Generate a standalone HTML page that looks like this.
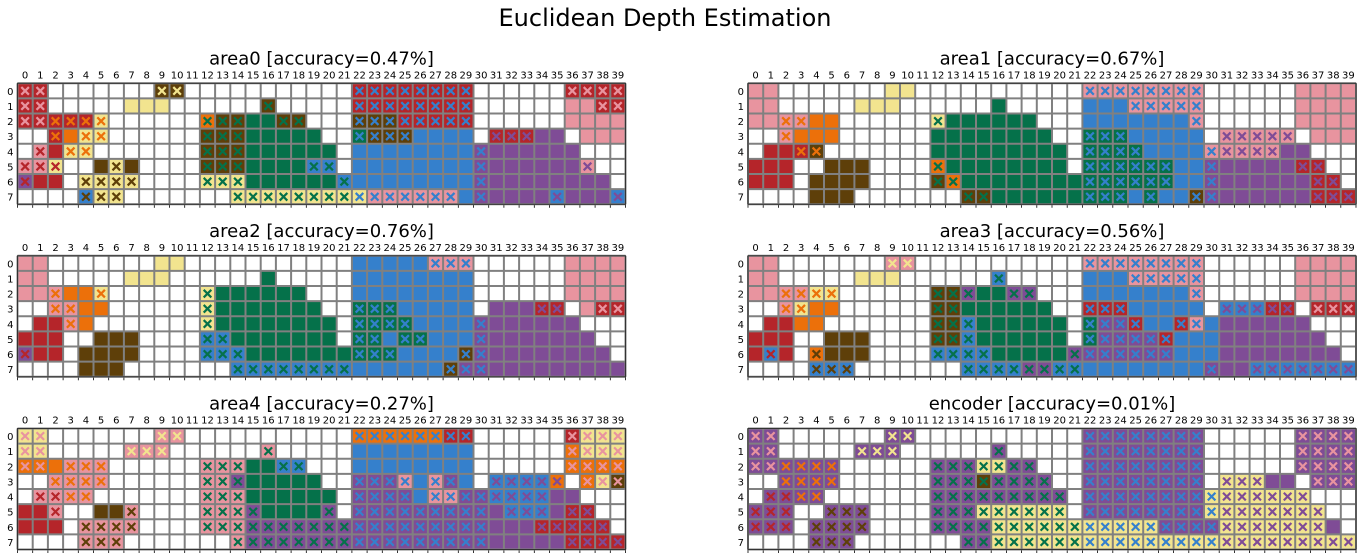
<!DOCTYPE html>
<html><head><meta charset="utf-8"><style>
html,body{margin:0;padding:0;background:#fff;}
svg{display:block;font-family:"DejaVu Sans","Liberation Sans",sans-serif;}
</style></head><body>
<svg id="chart" width="1363" height="559" viewBox="0 0 1363 559" xmlns="http://www.w3.org/2000/svg">
<text x="665" y="26" font-size="24" text-anchor="middle" fill="#000">Euclidean Depth Estimation</text>
</svg>
<script>
// Cell codes: first letter = fill class, second letter (optional) = marker class. W = white/empty.
const panelTitles = ["area0 [accuracy=0.47%]","area1 [accuracy=0.67%]","area2 [accuracy=0.76%]","area3 [accuracy=0.56%]","area4 [accuracy=0.27%]","encoder [accuracy=0.01%]"];
const colLabels = Array.from({length:40},(_,i)=>String(i));
const rowLabels = ["0","1","2","3","4","5","6","7"];
const area0 = [
"RP RP W*7 BY BY W*11 RU*8 W*6 RP RP RP RP",
"RP RP W*5 Y Y Y W*6 BG W*5 RU*8 W*6 P P RP RP",
"RP RP RO RO RO YO W*6 OG BG BG G G BG BG W*3 BU BU BU RU*5 W*6 P*4",
"W W RO O YO YO W*6 BG BG BG G*5 W W GU BU BU BU U*4 W RV RV RV V V W P P P",
"W PR R YO YO W*7 BG BG BG G*6 W U*8 VU V*6 W W W",
"PR PR YR W W B YB B W*4 BG BG BG G*4 UG UG W U*8 VU V*6 PV W W",
"VR R R W YB YB YB YB W*4 YG YG YG G*6 UG U*8 VU V*8 W",
"W*4 UB YB YB W*7 YG*8 YU PU*6 U VU V*4 UV V V V UV"];
const area1 = [
"P P W*7 Y Y W*11 PU*8 W*6 P*4",
"P P W*5 Y Y Y W*6 G W*5 U U U PU*5 W*6 P*4",
"P P PO PO O O W*6 YG G*6 W*3 U*7 PU W*6 P*4",
"W W PO O O O W*6 G*8 W W GU GU GU U*5 W PV*5 W P P P",
"W R R RO BO W*7 G*9 W GU*4 U*4 PU PV*4 V V W W W",
"R R R W W B B B W*4 OG G*8 W GU*6 U U VU V*5 RV RV W W",
"R R R W B B B B W*4 BG OG G*8 GU*6 U U VU V*6 RV RV W",
"W*4 B B B W*7 BG BG G*6 GU GU GU U GU U U BU VU V*6 RV RV RV"];
const area2 = [
"P P W*7 Y Y W*11 U*5 PU PU PU W*6 P*4",
"P P W*5 Y Y Y W*6 G W*5 U*8 W*6 P*4",
"P P PO O O YO W*6 YG G*6 W*3 U*8 W*6 P*4",
"W W PO PO O O W*6 YG G*7 W W GU GU GU U*5 W V V V RV RV W P RP RP",
"W R R PO O W*7 YG G*8 W GU*4 U*4 VU V*6 W W W",
"R R R W W B B B W*4 UG UG G*7 W GU GU U GU GU U U U VU V*7 W W",
"VR R R W B B B B W*4 UG UG UG G*7 GU GU GU U*4 BU VU V*8 W",
"W*4 B B B W*7 UG*8 U*6 BU VU VU V*9"];
const area3 = [
"P P W*7 PY PY W*11 PU*8 W*6 P*4",
"P P W*5 Y Y Y W*6 UG W*5 U U U PU*5 W*6 P*4",
"P P PO PO YO YO W*6 BG BG VG G G VG VG W*3 U*7 PU W*6 P*4",
"W W PO YO O O W*6 BG BG G*6 W W RU RU RU U*5 W UV UV UV RV RV W RP RP RP",
"W R R O O W*7 BG BG UG G*6 W GU VU VU RU U U RU PU U V*6 W W W",
"R R R W W B B B W*4 BG BG UG G*6 W GU VU VU VU VU RU U U U V*7 W W",
"R UR R W OB B B B W*4 UG UG UG UG G*5 VG VU*6 U U U V*8 W",
"W*4 UB UB UB W*7 UG UG UG UG VG VG UG UG U*8 VU V V UV*7"];
const area4 = [
"YP YP W*7 PY PY W*11 OU*6 RU RU W*6 RP YP YP YP",
"YP YP W*5 PY PY PY W*6 PG W*5 U*8 W*6 OP YP YP YP",
"OP OP O PO PO PO W*6 PG PG PG G G UG UG W*3 U*8 W*6 OP*4",
"W W PO*4 W*6 PG PG VG G*5 W W VU VU VU PU U PU VU U W UV*4 OV W OP YP BP",
"W PR PR PO PO W*7 PG PG PG G*6 W VU*4 U PU PU VU VU UV*4 V V W W W",
"R R PR W W B B PB W*4 PG PG PG VG G*4 VG W VU*9 V UV UV UV V RV RV W W",
"R R R W PB PB PB PB W*4 PG PG PG VG*7 VU*9 V V V RV*5 W",
"W*4 PB PB PB W*7 PG VG*7 VU*9 V*5 RV*4"];
const encoder = [
"VP VP W*7 VY VY W*11 VU*8 W*6 VP*4",
"VP VP W*5 VY VY VY W*6 VG W*5 VU*8 W*6 VP*4",
"VP VP VO*4 W*6 VG VG VG YG YG VG VG W*3 VU*8 W*6 VP*4",
"W W VO*4 W*6 VG VG VG BG VG*4 W W VU*8 W YV YV YV V V W VP VP VP",
"W VR VR VO VO W*7 VG*9 W VU*8 YU YV*6 W W W",
"VR VR VR W W VB VB VB W*4 VG VG VG YG*6 W VU*8 YU YV*7 W W",
"VR VR VR W VB VB VB VB W*4 VG*4 YG*6 YU*5 VU*4 YV*7 V W",
"W*4 VB VB VB W*7 VG VG YG*6 YU*9 YV*9"];
const panelsData = [area0, area1, area2, area3, area4, encoder];

const palette = {P:"#e8949f",R:"#b5252a",O:"#ec700a",Y:"#f2e48f",B:"#5e3f09",G:"#05714a",U:"#3580cc",V:"#7f4c96",W:"#ffffff"};
const NS = "http://www.w3.org/2000/svg";
const svg = document.getElementById('chart');
function expandRow(s){const out=[];s.trim().split(/\s+/).forEach(t=>{const m=t.split('*');const n=m[1]?parseInt(m[1]):1;for(let i=0;i<n;i++)out.push(m[0]);});return out;}
function mk(tag,attrs,parent){const e=document.createElementNS(NS,tag);for(const k in attrs)e.setAttribute(k,attrs[k]);(parent||svg).appendChild(e);return e;}
const layout = [[17.5,83.3],[748,83.3],[17.5,255.8],[748,255.8],[17.5,428.5],[748,428.5]];
const gridW = 608, gridH = 121;
panelsData.forEach((rows,pi)=>{
  const [x0,y0]=layout[pi];
  const cw=gridW/colLabels.length, ch=gridH/rowLabels.length;
  const xs=c=>x0+c*cw, ys=r=>y0+r*ch;
  const g=mk('g',{});
  
  
  const t=mk('text',{x:x0+gridW/2,y:y0-19,'font-size':18,'text-anchor':'middle',fill:'#000'},g);
  
  
  t.textContent=panelTitles[pi];
  rows.forEach((rs,r)=>{
    expandRow(rs).forEach((code,c)=>{
      const rect=mk('rect',{x:xs(c),y:ys(r),width:cw,height:ch,fill:palette[code[0]]},g);
      
      
      if(code.length>1){
        const cx=xs(c)+cw/2, cy=ys(r)+ch/2, d=3.8, col=palette[code[1]];
        const p=mk('path',{d:`M${cx-d},${cy-d}L${cx+d},${cy+d}M${cx-d},${cy+d}L${cx+d},${cy-d}`,stroke:col,'stroke-width':2.2,fill:'none'},g);
        
        
      }
    });
  });
  for(let c=0;c<=colLabels.length;c++){
    mk('line',{x1:xs(c),y1:y0,x2:xs(c),y2:y0+gridH,stroke:'#808080','stroke-width':2},g);
    mk('line',{x1:xs(c),y1:y0+gridH,x2:xs(c),y2:y0+gridH+3.5,stroke:'#000','stroke-width':0.8},g);
  }
  for(let r=0;r<=rowLabels.length;r++){
    mk('line',{x1:x0,y1:ys(r),x2:x0+gridW,y2:ys(r),stroke:'#808080','stroke-width':2},g);
  }
  mk('rect',{x:x0,y:y0,width:gridW,height:gridH,fill:'none',stroke:'#333','stroke-width':1},g);
  colLabels.forEach((lab,c)=>{
    const tl=mk('text',{x:xs(c)+cw/2,y:y0-5,'font-size':10,'text-anchor':'middle',fill:'#000'},g);
    
    
    tl.textContent=lab;
  });
  rowLabels.forEach((lab,r)=>{
    const tl=mk('text',{x:x0-4,y:ys(r)+ch/2+4,'font-size':10,'text-anchor':'end',fill:'#000'},g);
    
    
    tl.textContent=lab;
  });
});
</script>
</body></html>
